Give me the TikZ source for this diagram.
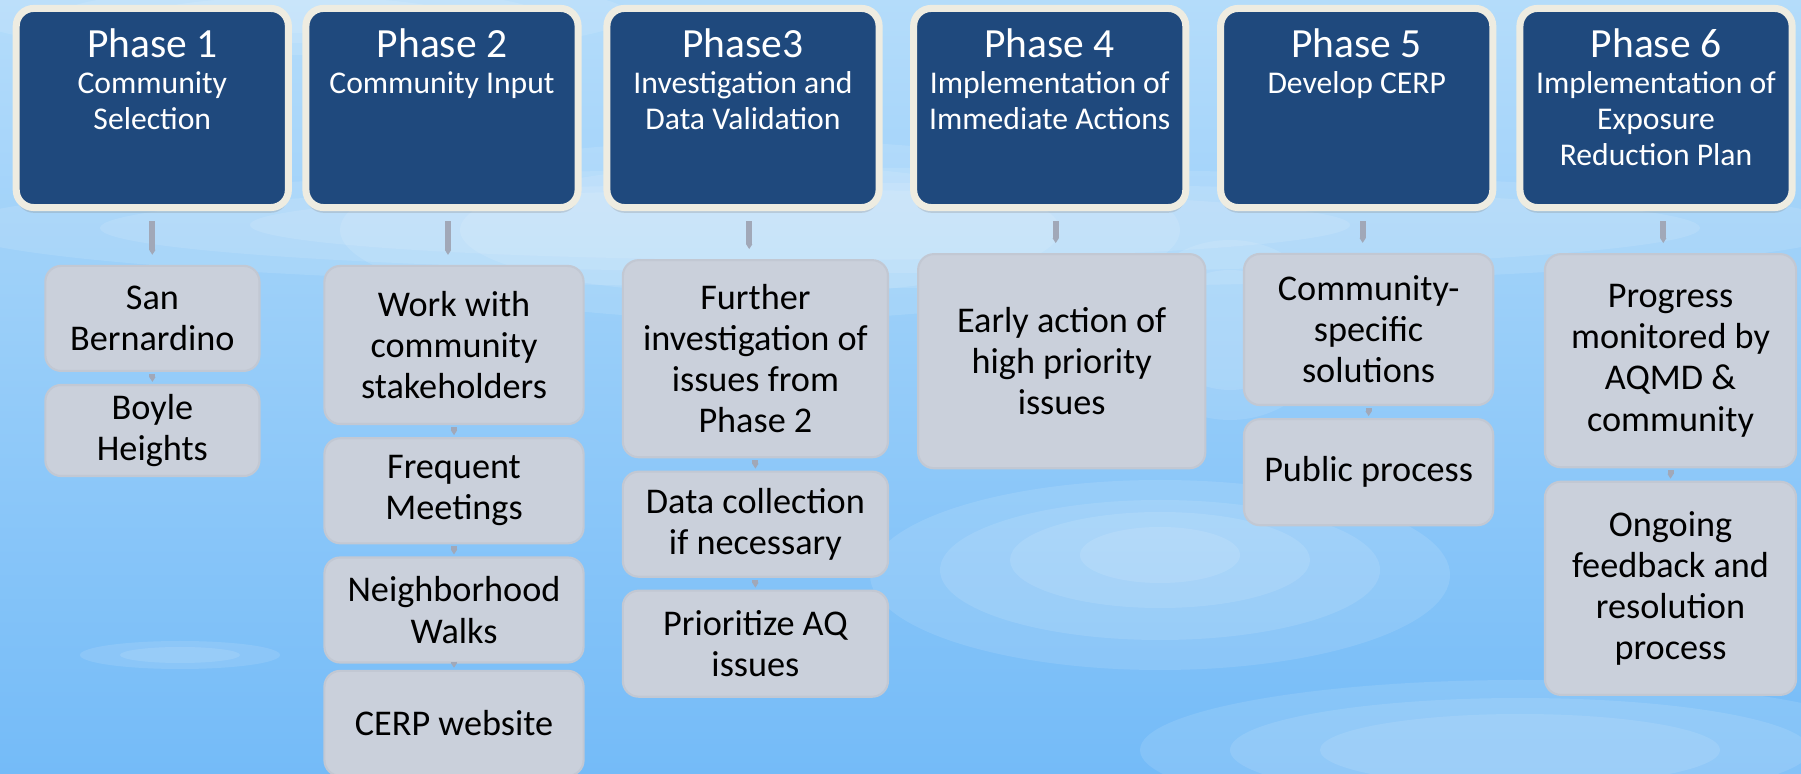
\documentclass[tikz,border=0pt]{standalone}
\usepackage{fontspec}
\setmainfont{Carlito}
\usepackage{xcolor}
\usetikzlibrary{calc,arrows.meta,shadows}

\definecolor{phaseblue}{HTML}{1F497D}
\definecolor{phaserim}{HTML}{EEECE1}
\definecolor{itemgray}{HTML}{CAD0DB}
\definecolor{itemrim}{HTML}{C2C8D3}
\definecolor{stubgray}{HTML}{A1A8B8}
\definecolor{skytop}{HTML}{B4DCFA}
\definecolor{skybot}{HTML}{74BBF8}

\tikzset{
  phasebox/.style={draw=phaserim, line width=2pt, fill=phaseblue, rounded corners=5pt,
    minimum width=2.72cm, minimum height=1.99cm, inner sep=0pt,
    drop shadow={opacity=0.25, shadow xshift=0pt, shadow yshift=-1.5pt}},
  phasetext/.style={text=white, align=center, inner sep=0pt, anchor=north,
    font=\fontsize{9}{10.2}\selectfont},
  itembox/.style={draw=itemrim, line width=0.6pt, fill=itemgray, rounded corners=4.5pt,
    align=center, inner sep=0pt, font=\fontsize{10.3}{11.7}\selectfont},
  stubline/.style={draw=stubgray, line width=1.7pt, -{Triangle[length=1.4pt,width=1.7pt]}},
  linkdown/.style={stubline, shorten <=0.1cm, shorten >=0.1cm},
  linkstep/.style={stubline, shorten <=0.02cm, shorten >=0.02cm},
  cloud/.style={white, opacity=0.11},
}

\begin{document}
\begin{tikzpicture}[x=0.01cm, y=-0.01cm]
\clip (0,0) rectangle (1801,774);

% sky
\shade[top color=skytop, bottom color=skybot] (0,0) rectangle (1801,774);
\fill[cloud] (300,15) ellipse (330 and 40);
\fill[cloud] (300,15) ellipse (240 and 28);
\fill[cloud] (300,15) ellipse (150 and 18);
\fill[cloud] (900,228) ellipse (950 and 60);
\fill[cloud] (900,228) ellipse (800 and 45);
\fill[cloud] (800,225) ellipse (550 and 35);
\fill[cloud] (760,230) ellipse (420 and 90);
\fill[cloud] (760,230) ellipse (300 and 65);
\fill[cloud] (1230,330) ellipse (100 and 90);
\fill[cloud] (1230,330) ellipse (70 and 60);
\fill[cloud] (1160,575) ellipse (290 and 95);
\fill[cloud] (1160,570) ellipse (220 and 70);
\fill[cloud] (1160,560) ellipse (150 and 48);
\fill[cloud] (1160,555) ellipse (80 and 28);
\fill[cloud] (1520,750) ellipse (380 and 70);
\fill[cloud] (1520,750) ellipse (290 and 52);
\fill[cloud] (1520,750) ellipse (200 and 36);
\fill[cloud] (180,655) ellipse (100 and 14);
\fill[cloud] (180,655) ellipse (60 and 8);

% phases
\node[phasebox] (p1) at (152.3,108) {};
\node[phasebox] (p2) at (442,108) {};
\node[phasebox] (p3) at (743,108) {};
\node[phasebox] (p4) at (1049.7,108) {};
\node[phasebox] (p5) at (1356.7,108) {};
\node[phasebox] (p6) at (1656,108) {};

\node[phasetext] (t1) at ($(p1.north)+(0,23)$) {{\fontsize{11.8}{12}\selectfont Phase 1}\\Community\\Selection};
\node[phasetext] (t2) at ($(p2.north)+(0,23)$) {{\fontsize{11.8}{12}\selectfont Phase 2}\\Community Input};
\node[phasetext] (t3) at ($(p3.north)+(0,23)$) {{\fontsize{11.8}{12}\selectfont Phase3}\\Investigation and\\Data Validation};
\node[phasetext] (t4) at ($(p4.north)+(0,23)$) {{\fontsize{11.8}{12}\selectfont Phase 4}\\Implementation of\\Immediate Actions};
\node[phasetext] (t5) at ($(p5.north)+(0,23)$) {{\fontsize{11.8}{12}\selectfont Phase 5}\\Develop CERP};
\node[phasetext] (t6) at ($(p6.north)+(0,23)$) {{\fontsize{11.8}{12}\selectfont Phase 6}\\Implementation of\\Exposure\\Reduction Plan};

% steps under each phase
\node[itembox, minimum width=2.14cm, minimum height=1.05cm] (c11) at (152.4,318.4) {San\\Bernardino};
\node[itembox, minimum width=2.14cm, minimum height=0.91cm] (c12) at (152.4,430.5) {Boyle\\Heights};

\node[itembox, minimum width=2.59cm, minimum height=1.58cm] (c21) at (454,345) {Work with\\community\\stakeholders};
\node[itembox, minimum width=2.59cm, minimum height=1.05cm] (c22) at (454,490.8) {Frequent\\Meetings};
\node[itembox, minimum width=2.59cm, minimum height=1.05cm] (c23) at (454,610) {Neighborhood\\Walks};
\node[itembox, minimum width=2.59cm, minimum height=1.05cm] (c24) at (454,723.4) {CERP website};

\node[itembox, minimum width=2.65cm, minimum height=1.97cm] (c31) at (755.4,358.7) {Further\\investigation of\\issues from\\Phase 2};
\node[itembox, minimum width=2.65cm, minimum height=1.05cm] (c32) at (755.4,524.2) {Data collection\\if necessary};
\node[itembox, minimum width=2.65cm, minimum height=1.06cm] (c33) at (755.4,643.7) {Prioritize AQ\\issues};

\node[itembox, minimum width=2.87cm, minimum height=2.14cm] (c41) at (1061.7,361.2) {Early action of\\high priority\\issues};

\node[itembox, minimum width=2.49cm, minimum height=1.51cm] (c51) at (1368.6,329.5) {Community-\\specific\\solutions};
\node[itembox, minimum width=2.49cm, minimum height=1.06cm] (c52) at (1368.6,472.2) {Public process};

\node[itembox, minimum width=2.51cm, minimum height=2.13cm] (c61) at (1670.5,360.7) {Progress\\monitored by\\AQMD \&\\community};
\node[itembox, minimum width=2.51cm, minimum height=2.13cm] (c62) at (1670.5,588.3) {Ongoing\\feedback and\\resolution\\process};

% links
\coordinate (m1) at ($(p1.south)!0.5!(c11.north)$);
\coordinate (m2) at ($(p2.south)!0.5!(c21.north)$);
\coordinate (m3) at ($(p3.south)!0.5!(c31.north)$);
\coordinate (m4) at ($(p4.south)!0.5!(c41.north)$);
\coordinate (m5) at ($(p5.south)!0.5!(c51.north)$);
\coordinate (m6) at ($(p6.south)!0.5!(c61.north)$);
\draw[linkdown] (m1 |- p1.south) -- (m1 |- c11.north);
\draw[linkdown] (m2 |- p2.south) -- (m2 |- c21.north);
\draw[linkdown] (m3 |- p3.south) -- (m3 |- c31.north);
\draw[linkdown] (m4 |- p4.south) -- (m4 |- c41.north);
\draw[linkdown] (m5 |- p5.south) -- (m5 |- c51.north);
\draw[linkdown] (m6 |- p6.south) -- (m6 |- c61.north);

\draw[linkstep] (c11) -- (c12);
\draw[linkstep] (c21) -- (c22);
\draw[linkstep] (c22) -- (c23);
\draw[linkstep] (c23) -- (c24);
\draw[linkstep] (c31) -- (c32);
\draw[linkstep] (c32) -- (c33);
\draw[linkstep] (c51) -- (c52);
\draw[linkstep] (c61) -- (c62);
\end{tikzpicture}
\end{document}
